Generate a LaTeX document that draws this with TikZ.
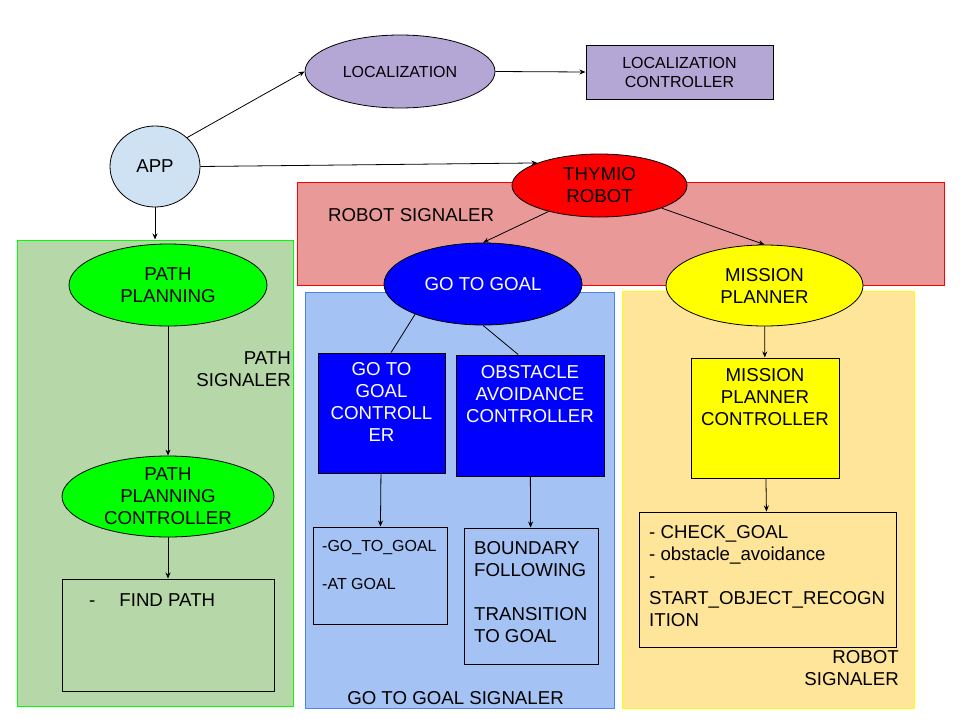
\documentclass[tikz,border=0pt]{standalone}
\usepackage{fontspec}
\setmainfont{Liberation Sans}
\usetikzlibrary{shapes.geometric,arrows.meta}

\definecolor{lilla}{HTML}{B4A7D6}
\definecolor{celeste}{HTML}{CFE2F3}
\definecolor{verdechiaro}{HTML}{B6D7A8}
\definecolor{verde}{HTML}{00FF00}
\definecolor{rosa}{HTML}{EA9999}
\definecolor{rosso}{HTML}{FF0000}
\definecolor{blu}{HTML}{0000FF}
\definecolor{azzurro}{HTML}{A4C2F4}
\definecolor{bordoblu}{HTML}{4A86E8}
\definecolor{giallo}{HTML}{FFFF00}
\definecolor{crema}{HTML}{FFE599}

\begin{document}
\begin{tikzpicture}[x=1pt, y=-1pt,
    every node/.style={font=\fontsize{18.67}{22}\selectfont},
    piccolo/.style={font=\fontsize{16}{19}\selectfont},
    zona/.style={rectangle, inner sep=0pt, line width=1pt},
    ovale/.style={ellipse, draw, inner sep=0pt, line width=0.8pt},
    scatola/.style={rectangle, draw, inner sep=0pt, line width=1pt},
    testo/.style={inner sep=0pt},
    freccia/.style={-{Stealth[length=6pt, width=5pt]}, line width=0.8pt}]
        \useasboundingbox (0,0) rectangle (960,720);

        % Zone dei signaler
        \node[zona, draw=rosso, fill=rosa, minimum width=647, minimum height=103] (segrobot) at (620.5,233.5) {};
        \node[zona, draw=verde, fill=verdechiaro, minimum width=276, minimum height=466] (segpath) at (155,473) {};
        \node[zona, draw=bordoblu, fill=azzurro, minimum width=309, minimum height=416] (seggoal) at (459.5,500) {};
        \node[zona, draw=giallo, fill=crema, minimum width=292, minimum height=417] (segmission) at (768,499.5) {};

        % Nomi delle zone
        \node[testo, anchor=west] (trobot) at (328,215.5) {ROBOT SIGNALER};
        \node[testo, anchor=north east, align=right] (tpath) at (291,351.2) {PATH\\SIGNALER};
        \node[testo] (tgoal) at (455.5,698.5) {GO TO GOAL SIGNALER};
        \node[testo, anchor=north east, align=right] (tmission) at (899,650.2) {ROBOT\\SIGNALER};

        % App e localizzazione
        \node[ovale, fill=celeste, minimum width=90, minimum height=81] (app) at (155,166.5) {APP};
        \node[ovale, fill=lilla, minimum width=190, minimum height=73, piccolo] (loc) at (400,71.5) {LOCALIZATION};
        \node[scatola, fill=lilla, minimum width=187, minimum height=54, align=center, piccolo] (locc) at (679.5,72) {LOCALIZATION\\CONTROLLER};

        % Pianificazione del percorso
        \node[ovale, fill=verde, minimum width=198, minimum height=82, align=center] (pp) at (168,285) {PATH\\PLANNING};
        \node[ovale, fill=verde, minimum width=212, minimum height=81, align=center] (ppc) at (168,496.5) {PATH\\PLANNING\\CONTROLLER};
        \node[scatola, minimum width=212, minimum height=112] (trova) at (168,635) {};
        \node[testo, anchor=west] (ttrova) at (89,600) {-\hspace{24pt}FIND PATH};

        % Robot e sotto-moduli
        \node[ovale, fill=rosso, minimum width=175, minimum height=63, align=center] (thymio) at (599.5,185.5) {THYMIO\\ROBOT};
        \node[ovale, fill=blu, text=white, minimum width=198, minimum height=82] (gtg) at (483,284) {GO TO GOAL};
        \node[ovale, fill=giallo, minimum width=197, minimum height=81, align=center] (mp) at (764.5,285.5) {MISSION\\PLANNER};

        % Controller
        \node[scatola, fill=blu, minimum width=127, minimum height=120] (gtgc) at (381.5,413) {};
        \node[testo, anchor=north, align=center, text=white] (tgtgc) at (381.5,362.2) {GO TO\\GOAL\\CONTROLL\\ER};
        \node[scatola, fill=blu, minimum width=148, minimum height=121] (oac) at (530,415.5) {};
        \node[testo, anchor=north, align=center, text=white] (toac) at (530,365.2) {OBSTACLE\\AVOIDANCE\\CONTROLLER};
        \node[scatola, fill=giallo, minimum width=148, minimum height=120] (mpc) at (765,418) {};
        \node[testo, anchor=north, align=center] (tmpc) at (765,368.2) {MISSION\\PLANNER\\CONTROLLER};

        % Segnali
        \node[scatola, minimum width=134, minimum height=97] (gtgl) at (380,575.5) {};
        \node[testo, piccolo, anchor=north west, align=left] (tgtgl) at (322,540.2) {-GO\_TO\_GOAL\\[19pt]-AT GOAL};
        \node[scatola, minimum width=134, minimum height=136] (bnd) at (531,596) {};
        \node[testo, anchor=north west, align=left] (tbnd) at (474,541.2) {BOUNDARY\\FOLLOWING\\[22pt]TRANSITION\\TO GOAL};
        \node[scatola, minimum width=257, minimum height=135] (mpl) at (767.5,579.5) {};
        \node[testo, anchor=north west, align=left] (tmpl) at (649,525.2) {- CHECK\_GOAL\\- obstacle\_avoidance\\-\\START\_OBJECT\_RECOGN\\ITION};

        % Collegamenti
        \draw[freccia] (app.north east) -- (loc.west);
        \draw[freccia] (loc.east) -- (locc.west);
        \draw[freccia] (app.east) -- (thymio.north west);
        \draw[freccia] (app.south) -- (app.south |- segpath.north);
        \draw[freccia] (pp) -- (ppc);
        \draw[freccia] (ppc) -- (trova);
        \draw[freccia] (thymio.207) -- (gtg.north);
        \draw[freccia] (thymio.-20) -- (mp.north);
        \draw[line width=0.8pt] (gtg.204) -- (gtgc.81);
        \draw[line width=0.8pt] (gtg.south) -- (oac.101);
        \draw[freccia] (gtgc) -- (gtgl);
        \draw[freccia] (oac) -- (bnd);
        \draw[freccia] (mp) -- (mpc);
        \draw[freccia] (mpc) -- (mpl);
      \end{tikzpicture}
\end{document}
